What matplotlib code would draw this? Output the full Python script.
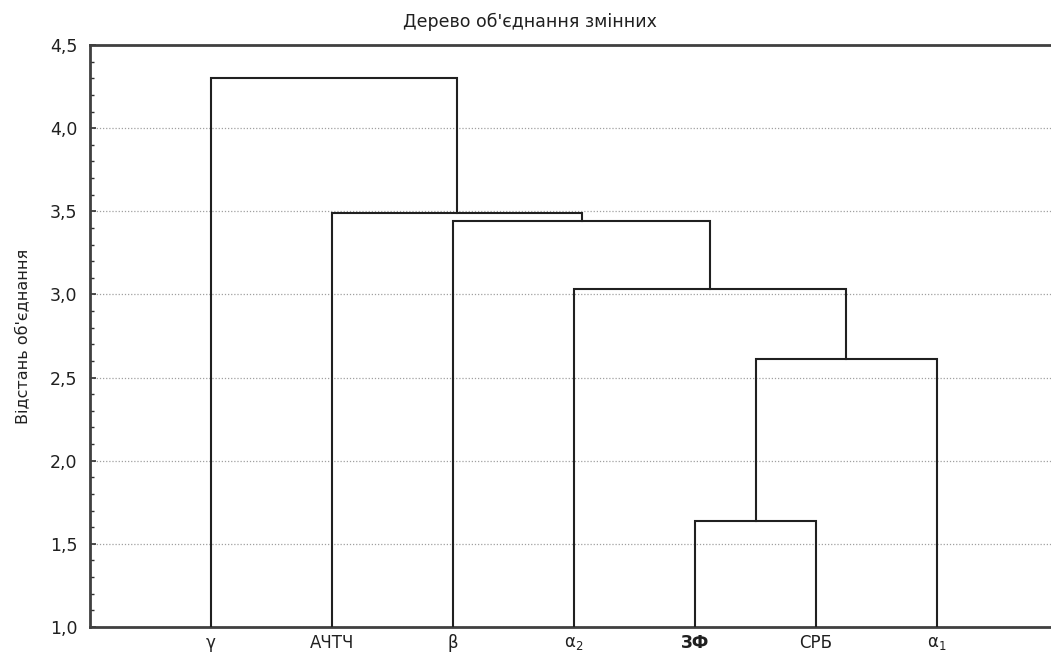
import numpy
import matplotlib
matplotlib.use("Agg")
import matplotlib.pylab as plt
from matplotlib.ticker import MultipleLocator, FuncFormatter

plt.rcParams["font.family"] = ["DejaVu Sans"]
plt.rcParams["mathtext.default"] = "regular"

# leaves in dendrogram order
leaves = ["γ", "АЧТЧ", "β", r"$\alpha_2$", "ЗФ", "СРБ", r"$\alpha_1$"]
# merges: (left cluster, right cluster, height); clusters are leaf indices or "c<k>"
merges = [
    (4, 5, 1.64),
    ("c0", 6, 2.61),
    (3, "c1", 3.03),
    (2, "c2", 3.44),
    (1, "c3", 3.49),
    (0, "c4", 4.30),
]

fig = plt.figure(figsize=(10.51, 6.57), dpi=100)
ax = fig.add_axes([90 / 1051, 30 / 657, 961 / 1051, 582 / 657])

xpos = {i: i + 1 for i in range(len(leaves))}
ypos = {i: 1.0 for i in range(len(leaves))}
for k, (a, b, h) in enumerate(merges):
    xa, xb = xpos[a], xpos[b]
    ax.plot([xa, xa, xb, xb], [ypos[a], h, h, ypos[b]], color="#202020", lw=1.5,
            solid_joinstyle="miter", zorder=3)
    xpos["c%d" % k] = (xa + xb) / 2
    ypos["c%d" % k] = h

ax.set_xlim(0, 961 / 121)
ax.set_ylim(1.0, 4.5)
ax.yaxis.set_major_locator(MultipleLocator(0.5))
ax.yaxis.set_minor_locator(MultipleLocator(0.1))
ax.yaxis.set_major_formatter(FuncFormatter(lambda v, p: ("%.1f" % v).replace(".", ",")))
ax.grid(axis="y", which="major", linestyle=(0, (1, 1.5)), color="#a0a0a0", lw=0.9)

ax.set_xticks(range(1, len(leaves) + 1))
ax.set_xticklabels(leaves, fontsize=12, color="#202020")
ax.get_xticklabels()[4].set_fontweight("bold")
ax.tick_params(axis="x", length=0, pad=5)
ax.tick_params(axis="y", which="major", direction="in", length=4, width=1.2,
               labelsize=12.5, pad=9, color="#303030", labelcolor="#202020")
ax.tick_params(axis="y", which="minor", direction="in", length=3, width=1.0, color="#303030")

for s in ["left", "top", "bottom"]:
    ax.spines[s].set_color("#404040")
    ax.spines[s].set_linewidth(2)
ax.spines["right"].set_visible(False)

ax.set_ylabel("Відстань об'єднання", fontsize=11.5, labelpad=14, color="#202020")
fig.text(530 / 1051, 1 - 22 / 657, "Дерево об'єднання змінних", ha="center", va="center",
         fontsize=12.5, color="#202020")

plt.savefig("out.png", dpi=100)
